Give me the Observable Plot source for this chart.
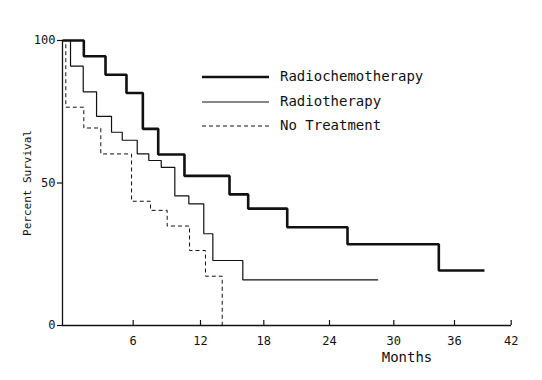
<!DOCTYPE html>
<html><head><meta charset="utf-8">
<script src="https://cdn.jsdelivr.net/npm/d3@7"></script>
<script src="https://cdn.jsdelivr.net/npm/@observablehq/plot@0.6"></script>
<style>
body{margin:0;background:#fff;}
#wrap{position:relative;width:542px;height:380px;}
#legend{position:absolute;left:0;top:0;pointer-events:none;}
</style></head><body><div id="wrap"></div>
<script>
// ---- data ----
const seriesNames = ["Radiochemotherapy", "Radiotherapy", "No Treatment"];
const radiochemoMonths   = [0, 1.81, 3.65, 5.43, 6.86, 8.23, 10.57, 14.75, 16.52, 20.14, 25.68, 34.45, 39.17];
const radiochemoSurvival = [100, 94.5, 88, 81.6, 69, 60, 52.5, 46, 41, 34.5, 28.5, 19.3, 19.3];
const radioMonths   = [0, 0.68, 1.76, 2.89, 4.16, 5.07, 6.36, 7.39, 8.50, 9.71, 10.96, 12.31, 13.17, 16.01, 28.54];
const radioSurvival = [100, 91, 82, 73.4, 67.8, 65, 60.2, 57.9, 55.5, 45.5, 42.7, 32.2, 22.8, 16, 16];
const noTreatMonths   = [0, 0.28, 1.81, 3.25, 5.86, 7.54, 9.03, 11.02, 12.47, 14.06];
const noTreatSurvival = [100, 76.6, 69.3, 60.2, 43.6, 40.4, 34.9, 26.3, 17.3, 0];
const xTicks = [6, 12, 18, 24, 30, 36, 42];
const yTicks = [0, 50, 100];
const xLabel = "Months";
const yLabel = "Percent Survival";

// ---- styles ----
const ink = "#111";
const font = "'DejaVu Sans Mono', 'Liberation Mono', monospace";
const lineStyles = [
  {w: 2.6, dash: null},
  {w: 1.2, dash: null},
  {w: 1.0, dash: "4,3"}
];
const seriesData = [
  d3.zip(radiochemoMonths, radiochemoSurvival),
  d3.zip(radioMonths, radioSurvival),
  d3.zip(noTreatMonths, noTreatSurvival)
];

const chart = Plot.plot({
  width: 542, height: 380,
  marginLeft: 62, marginRight: 31, marginTop: 40, marginBottom: 55,
  style: {fontFamily: font, fontSize: "12px", color: ink, background: "white"},
  // the printed axis is slightly uneven: piecewise-linear scale through its tick marks
  x: {type: "linear", domain: [0, 6, 12, 18, 24, 30, 36, 42], range: [62, 132.7, 200, 263.3, 329, 393.3, 454, 510.7]},
  y: {type: "linear", domain: [0, 100]},
  marks: [
    Plot.ruleY([0], {stroke: ink, strokeWidth: 1.3}),
    Plot.ruleX([0], {stroke: ink, strokeWidth: 1.3}),
    Plot.axisX({ticks: xTicks, tickSize: -5, tickPadding: 16, label: null, stroke: ink, fill: ink, strokeWidth: 1.2}),
    Plot.axisY({ticks: yTicks, tickSize: 5, tickPadding: 2, label: null, stroke: ink, fill: ink, strokeWidth: 1.2}),
    ...seriesData.map((d, i) => Plot.line(d, {
      x: p => p[0], y: p => p[1], curve: "step-after",
      stroke: ink, strokeWidth: lineStyles[i].w, strokeDasharray: lineStyles[i].dash,
      strokeLinejoin: "miter", strokeLinecap: "butt"
    })),
    Plot.text([yLabel], {frameAnchor: "left", textAnchor: "middle", dx: -35, rotate: -90, fontSize: 11, fill: ink}),
    Plot.text([xLabel], {frameAnchor: "bottom", dx: 120, dy: 36, fontSize: 14, fill: ink})
  ]
});
const wrap = document.getElementById("wrap");
wrap.appendChild(chart);

// ---- legend overlay ----
const leg = d3.select(wrap).append("svg").attr("id", "legend")
  .attr("width", 542).attr("height", 380);
const legRows = [77, 102, 126];
seriesNames.forEach((name, i) => {
  leg.append("line")
    .attr("x1", 202).attr("x2", 269).attr("y1", legRows[i]).attr("y2", legRows[i])
    .attr("stroke", ink).attr("stroke-width", lineStyles[i].w)
    .attr("stroke-dasharray", lineStyles[i].dash);
  leg.append("text")
    .attr("x", 280).attr("y", legRows[i] - 1).attr("dy", "0.35em")
    .attr("font-family", font).attr("font-size", 14).attr("fill", ink)
    .text(name);
});
</script>
</body></html>
